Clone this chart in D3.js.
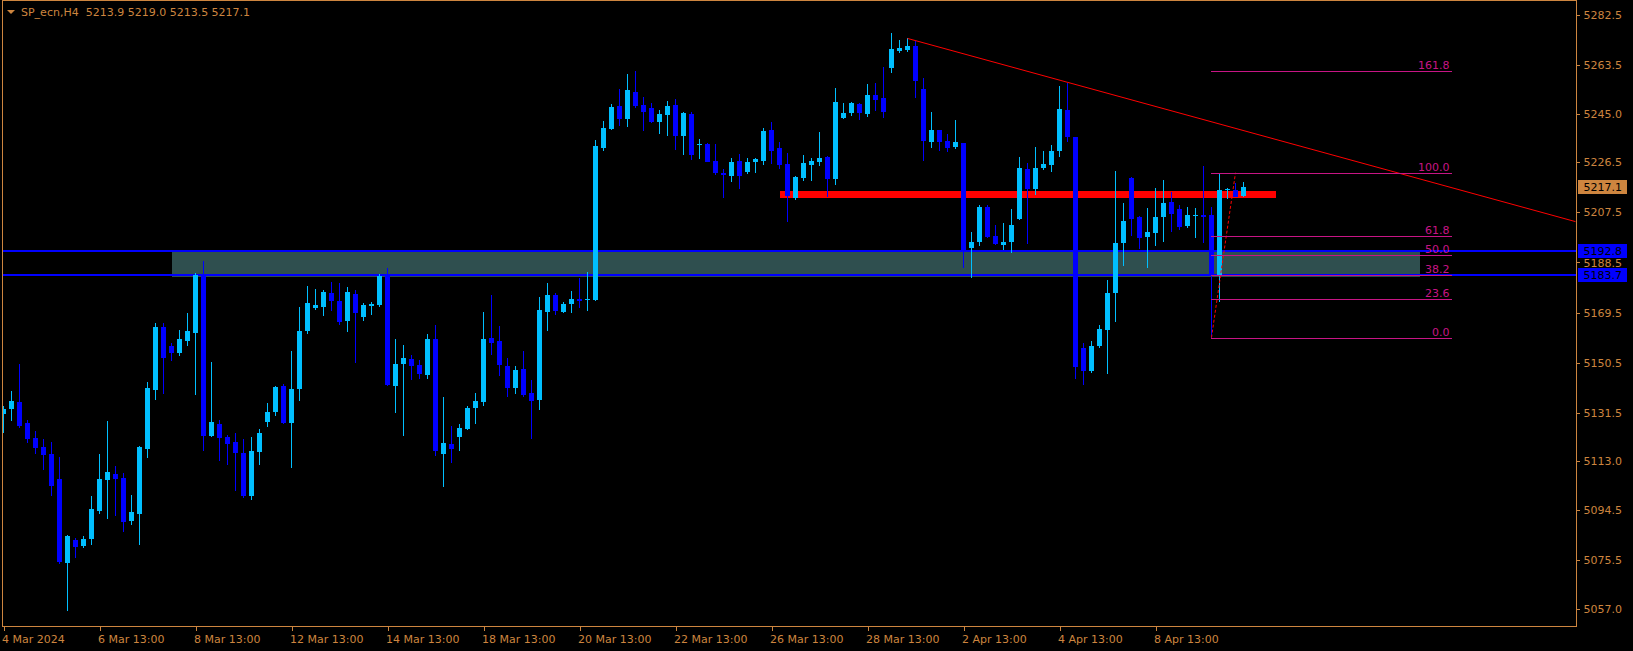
<!DOCTYPE html>
<html><head><meta charset="utf-8">
<script src="https://cdn.jsdelivr.net/npm/d3@7"></script>
<style>html,body{margin:0;padding:0;background:#000;overflow:hidden}</style>
</head><body>
<svg id="c" width="1633" height="651"></svg>
<script>
// ---------- DATA ----------
const symbolTitle = "SP_ecn,H4";
const opens = [5131.0,5132.9,5135.5,5127.5,5121.8,5118.4,5115.8,5106.3,5074.4,5083.1,5080.8,5083.5,5094.1,5105.9,5108.2,5106.7,5090.3,5093.0,5117.7,5140.1,
5164.0,5156.8,5154.1,5158.7,5161.7,5183.8,5122.6,5127.2,5122.2,5120.3,5116.1,5099.8,5116.5,5127.9,5131.7,5141.6,5127.5,5140.5,5162.5,5171.2,
5171.6,5176.9,5173.9,5166.3,5176.5,5167.8,5172.0,5172.4,5183.4,5141.6,5150.0,5151.9,5149.6,5145.8,5159.4,5115.8,5119.6,5122.2,5125.3,5133.2,
5135.5,5159.8,5158.7,5149.2,5140.8,5148.0,5138.9,5136.3,5169.7,5176.2,5169.7,5172.7,5174.6,5174.3,5174.3,5232.0,5239.2,5247.9,5243.0,5253.2,
5248.3,5247.2,5241.9,5244.5,5248.3,5236.5,5244.9,5233.1,5233.5,5227.0,5222.5,5221.3,5227.0,5222.9,5226.7,5227.0,5238.8,5232.0,5225.9,5213.0,
5220.6,5225.5,5226.7,5228.6,5220.2,5243.4,5245.3,5248.7,5244.9,5252.1,5251.0,5262.4,5268.8,5269.2,5270.7,5254.4,5234.3,5238.8,5234.6,5232.4,
5233.9,5194.0,5196.3,5209.6,5198.6,5195.1,5196.3,5205.0,5224.0,5216.4,5224.4,5225.5,5230.8,5246.4,5236.2,5156.0,5147.3,5156.8,5162.9,5176.9,
5195.9,5220.6,5205.8,5198.2,5199.7,5205.8,5211.5,5208.8,5202.3,5206.1,5206.5,5206.5,5183.7,5216.0,5216.0,5213.9];
const highs = [5134.0,5139.7,5150.0,5128.7,5124.5,5121.5,5120.3,5114.6,5085.0,5083.9,5084.6,5099.8,5115.8,5128.3,5111.2,5108.6,5100.2,5118.8,5143.1,5165.5,
5165.5,5157.9,5162.9,5169.3,5184.5,5189.1,5150.7,5128.7,5123.0,5123.7,5121.5,5122.2,5125.3,5135.1,5141.6,5142.4,5154.9,5171.6,5179.6,5178.4,
5178.1,5181.1,5180.7,5179.2,5178.1,5173.1,5173.5,5184.0,5186.4,5159.5,5157.2,5153.4,5151.5,5161.3,5164.7,5137.4,5126.4,5127.2,5134.0,5138.9,
5169.7,5176.2,5164.4,5152.2,5149.2,5154.9,5143.9,5175.4,5180.7,5176.9,5173.5,5177.7,5182.6,5184.9,5235.0,5242.2,5248.7,5254.4,5260.1,5261.2,
5251.4,5249.1,5246.4,5249.8,5250.6,5245.7,5245.7,5235.4,5233.7,5233.5,5224.0,5228.2,5229.7,5228.2,5228.0,5239.6,5241.9,5234.3,5230.1,5221.3,
5229.3,5228.2,5238.1,5229.0,5254.8,5249.1,5249.5,5249.1,5256.3,5256.7,5262.7,5275.7,5273.0,5273.6,5272.6,5258.6,5245.7,5239.0,5237.3,5242.6,
5234.0,5200.1,5210.3,5210.3,5202.7,5203.5,5208.8,5228.6,5226.3,5232.4,5230.8,5233.1,5255.5,5256.7,5236.3,5157.9,5158.7,5164.7,5181.8,5223.2,
5211.1,5220.8,5206.1,5209.2,5216.8,5219.8,5215.3,5210.3,5209.6,5209.2,5225.1,5209.6,5222.5,5216.8,5218.7,5219.0];
const lows = [5123.9,5128.3,5125.6,5119.9,5115.8,5109.7,5099.8,5074.0,5056.2,5076.3,5080.1,5081.2,5093.0,5091.1,5092.2,5086.2,5088.8,5081.2,5114.2,5136.3,
5138.6,5151.1,5153.0,5156.8,5138.2,5116.9,5122.2,5113.1,5111.6,5101.7,5099.0,5098.3,5111.6,5126.0,5130.2,5127.2,5110.5,5135.9,5161.3,5170.5,
5168.2,5170.1,5164.8,5162.1,5150.3,5166.3,5168.6,5171.6,5141.6,5131.4,5122.6,5143.9,5144.3,5144.3,5115.0,5103.2,5112.3,5116.9,5124.9,5127.2,
5134.0,5153.4,5145.4,5137.4,5138.6,5137.4,5121.5,5132.5,5162.5,5168.6,5169.3,5169.3,5171.2,5170.1,5173.9,5230.8,5238.8,5240.3,5240.0,5247.2,
5238.4,5241.5,5237.3,5236.5,5231.2,5229.3,5227.4,5227.8,5226.5,5221.7,5213.0,5219.1,5216.4,5222.1,5222.5,5225.5,5225.9,5224.0,5203.9,5212.2,
5219.4,5219.4,5225.1,5213.4,5217.9,5243.0,5244.1,5242.6,5243.8,5246.0,5243.4,5260.5,5268.1,5268.4,5251.0,5227.0,5232.0,5230.8,5230.5,5231.6,
5186.4,5182.6,5194.8,5197.8,5195.1,5193.2,5192.1,5204.8,5195.5,5214.1,5223.6,5222.9,5228.6,5234.3,5144.2,5142.0,5146.5,5156.0,5146.1,5165.9,
5187.2,5198.6,5193.6,5186.4,5194.8,5196.3,5200.1,5200.8,5201.6,5197.8,5195.9,5160.0,5173.5,5212.7,5213.2,5213.5];
const closes = [5132.9,5135.9,5126.4,5121.5,5118.0,5115.4,5103.6,5074.8,5084.6,5080.5,5083.5,5094.9,5106.3,5108.9,5106.3,5090.0,5093.7,5118.4,5140.8,5164.0,
5152.2,5154.1,5159.4,5162.5,5183.8,5122.6,5127.9,5121.8,5119.6,5116.1,5099.8,5116.9,5123.7,5131.7,5141.2,5127.5,5140.5,5162.5,5173.1,5172.4,
5177.3,5173.9,5165.9,5177.3,5169.3,5172.4,5172.7,5183.4,5142.0,5150.0,5152.2,5149.2,5146.2,5159.4,5116.9,5119.9,5117.7,5125.6,5133.2,5135.9,
5159.4,5157.9,5149.6,5140.8,5147.7,5138.2,5135.9,5170.5,5176.2,5170.1,5172.7,5174.6,5173.9,5174.6,5232.7,5239.6,5247.6,5243.0,5254.0,5247.9,
5245.7,5241.9,5244.9,5247.9,5236.5,5245.3,5229.3,5233.5,5226.7,5222.5,5221.7,5226.7,5221.3,5226.7,5227.8,5238.4,5230.8,5225.5,5213.8,5221.0,
5226.3,5227.0,5228.2,5220.2,5249.5,5245.3,5249.1,5245.3,5252.1,5250.2,5245.7,5269.6,5270.0,5270.7,5257.4,5234.6,5238.8,5234.3,5232.0,5234.3,
5193.2,5196.3,5209.6,5198.2,5195.5,5196.3,5202.7,5224.4,5216.4,5224.4,5225.9,5230.8,5246.8,5236.2,5148.8,5147.3,5156.8,5163.2,5176.9,5195.9,
5204.2,5205.0,5197.8,5200.1,5205.8,5211.1,5206.9,5202.0,5206.5,5206.5,5205.8,5183.7,5216.0,5216.4,5213.4,5217.1];

const yTickValues = [5282.5,5263.5,5245.0,5226.5,5207.5,5188.5,5169.5,5150.5,5131.5,5113.0,5094.5,5075.5,5057.0];
const xTickBars = [0,12,24,36,48,60,72,84,96,108,120,132,144];
const xTickLabels = ["4 Mar 2024","6 Mar 13:00","8 Mar 13:00","12 Mar 13:00","14 Mar 13:00","18 Mar 13:00","20 Mar 13:00","22 Mar 13:00","26 Mar 13:00","28 Mar 13:00","2 Apr 13:00","4 Apr 13:00","8 Apr 13:00"];

const hLinePrices = [5192.8, 5183.7];          // blue horizontal lines
const zoneBars = [21, 177];                     // rectangle time extent (bar index)
const zonePrices = [5192.6, 5182.9];            // rectangle price extent
const resistBars = [97, 159];                   // thick red line extent
const resistPrice = 5214.7;
const trendBars = [113, 155];                   // trendline anchors
const trendPrices = [5273.6, 5238.6];
const fibBars = [151, 154, 181];                // fib anchor 0, anchor 100, level end
const fibPrices = [5160.0, 5222.6];
const fibLevels = [0, 23.6, 38.2, 50.0, 61.8, 100.0, 161.8];

// ---------- DRAW ----------
const ORANGE = "#CD853F", UP = "#00BFFF", DN = "#0000FF", FIB = "#C71585";
const FONT = "DejaVu Sans";
const svg = d3.select("#c");
const L = 2.5, R = 1576.5, T = 0.5, B = 626.5;
const x = d3.scaleLinear().domain([0, 196.5]).range([3.5, 1575.5]);
const y = d3.scaleLinear().domain([5057.0, 5282.5]).range([608.7, 15]);

svg.append("rect").attr("width",1633).attr("height",651).attr("fill","#000");
svg.append("defs").append("clipPath").attr("id","pc").append("rect")
  .attr("x",L).attr("y",T).attr("width",R-L).attr("height",B-T);
const g = svg.append("g").attr("clip-path","url(#pc)").attr("shape-rendering","crispEdges");

// zone
g.append("rect").attr("x",x(zoneBars[0])).attr("width",x(zoneBars[1])-x(zoneBars[0]))
  .attr("y",Math.round(y(zonePrices[0]))).attr("height",Math.round(y(zonePrices[1]))-Math.round(y(zonePrices[0])))
  .attr("fill","#2F4F4F");
// thick red line
g.append("rect").attr("x",x(resistBars[0])).attr("width",x(resistBars[1])-x(resistBars[0]))
  .attr("y",Math.round(y(resistPrice))-3.5+0.5).attr("height",7).attr("fill","#FF0000");
// blue lines
hLinePrices.forEach(p=>{
  g.append("rect").attr("x",L).attr("width",R-L).attr("y",Math.round(y(p))-1).attr("height",2).attr("fill",DN);
});

// candles
const bars = opens.map((o,i)=>({i,o,h:highs[i],l:lows[i],c:closes[i]}));
const cg = g.append("g");
bars.forEach(d=>{
  const col = d.c >= d.o ? UP : DN;
  const yh = Math.round(y(d.h)), yl = Math.round(y(d.l));
  cg.append("rect").attr("x",x(d.i)-0.5).attr("width",1).attr("y",yh).attr("height",Math.max(1,yl-yh)).attr("fill",col);
  const bt = Math.round(y(Math.max(d.o,d.c))), bb = Math.round(y(Math.min(d.o,d.c)));
  cg.append("rect").attr("x",x(d.i)-2.5).attr("width",5).attr("y",bt).attr("height",Math.max(1,bb-bt)).attr("fill",col);
});

// trendline (ray)
const slope = (trendPrices[1]-trendPrices[0])/(trendBars[1]-trendBars[0]);
const endBar = x.domain()[1];
svg.append("g").attr("clip-path","url(#pc)").append("line")
  .attr("x1",x(trendBars[0])).attr("y1",y(trendPrices[0]))
  .attr("x2",x(endBar)).attr("y2",y(trendPrices[0]+slope*(endBar-trendBars[0])))
  .attr("stroke","#FF0000").attr("stroke-width",1);

// fibonacci
const fg = svg.append("g");
fg.append("line").attr("x1",x(fibBars[0])).attr("y1",y(fibPrices[0]))
  .attr("x2",x(fibBars[1])).attr("y2",y(fibPrices[1]))
  .attr("stroke","#FF0000").attr("stroke-width",1).attr("stroke-dasharray","3,2");
fibLevels.forEach(lv=>{
  const p = fibPrices[0] + (fibPrices[1]-fibPrices[0])*lv/100;
  const yy = Math.round(y(p))+0.5;
  fg.append("line").attr("x1",x(fibBars[0])-0.5).attr("x2",x(fibBars[2])).attr("y1",yy).attr("y2",yy)
    .attr("stroke",FIB).attr("stroke-width",1).attr("shape-rendering","crispEdges");
  fg.append("text").attr("x",x(fibBars[2])-2).attr("y",yy-3).attr("text-anchor","end")
    .attr("fill",FIB).attr("font-family",FONT).attr("font-size","11px").text(lv.toFixed(1));
});

// frame
svg.append("rect").attr("x",L).attr("y",T).attr("width",R-L).attr("height",B-T)
  .attr("fill","none").attr("stroke",ORANGE).attr("stroke-width",1).attr("shape-rendering","crispEdges");

// y axis
const yAxis = d3.axisRight(y).tickValues(yTickValues).tickSize(3).tickPadding(4)
  .tickFormat(d=>d.toFixed(1));
const ya = svg.append("g").attr("transform",`translate(${R},0)`).call(yAxis);
ya.select(".domain").remove();
ya.selectAll("line").attr("stroke",ORANGE).attr("shape-rendering","crispEdges");
ya.selectAll("text").attr("fill",ORANGE).attr("font-family",FONT).attr("font-size","11px");

// x axis
const xAxis = d3.axisBottom(x).tickValues(xTickBars).tickSize(4).tickPadding(5)
  .tickFormat((d,i)=>xTickLabels[i]);
const xa = svg.append("g").attr("transform",`translate(0,${B})`).call(xAxis);
xa.select(".domain").remove();
xa.selectAll("line").attr("stroke",ORANGE).attr("shape-rendering","crispEdges");
xa.selectAll("text").attr("fill",ORANGE).attr("font-family",FONT).attr("font-size","11px")
  .attr("text-anchor","start").attr("dx","-2");

// price boxes
function priceBox(p, bg){
  const yy = y(p);
  svg.append("rect").attr("x",1578).attr("y",Math.round(yy)-7).attr("width",49).attr("height",14).attr("fill",bg);
  svg.append("text").attr("x",1583.5).attr("y",yy).attr("dy","0.37em").attr("fill","#000")
    .attr("font-family",FONT).attr("font-size","11px").text(p.toFixed(1));
}
hLinePrices.forEach(p=>priceBox(p, DN));
priceBox(closes[closes.length-1], ORANGE);

// header
svg.append("path").attr("d","M7,10 L15,10 L11,14 Z").attr("fill",ORANGE);
const last = bars[bars.length-1];
svg.append("text").attr("x",21).attr("y",16).attr("fill",ORANGE).attr("font-family",FONT).attr("font-size","11px")
  .attr("xml:space","preserve").style("white-space","pre")
  .text(`${symbolTitle}  ${last.o.toFixed(1)} ${last.h.toFixed(1)} ${last.l.toFixed(1)} ${last.c.toFixed(1)}`);
</script>
</body></html>
